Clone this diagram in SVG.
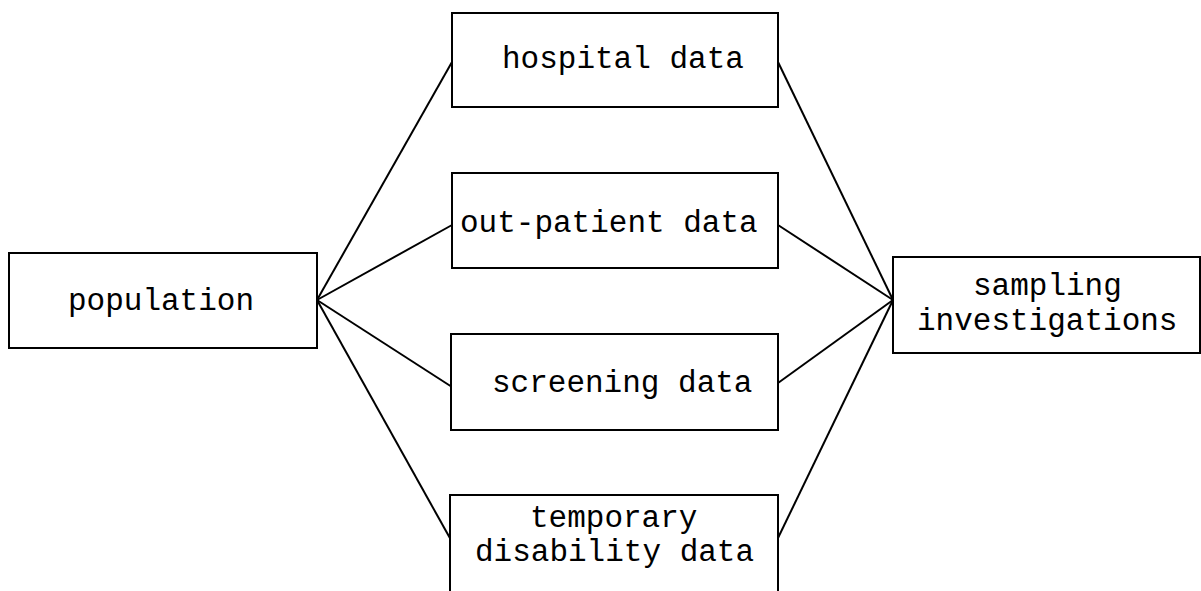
<svg xmlns="http://www.w3.org/2000/svg" width="1201" height="591" viewBox="0 0 1201 591">
<style>
.box{fill:#fff;stroke:#000;stroke-width:2}
.lbl{font-family:"Liberation Mono","Courier New",monospace;font-size:31px;fill:#000}
.conn line{stroke:#000;stroke-width:2}
</style>
<rect width="1201" height="591" fill="#fff"/>
<g id="connectors" class="conn">
<line x1="317" y1="300" x2="452" y2="62"/>
<line x1="317" y1="300" x2="452" y2="225"/>
<line x1="317" y1="300" x2="452" y2="387"/>
<line x1="317" y1="300" x2="451" y2="540"/>
<line x1="778" y1="62" x2="893" y2="300"/>
<line x1="778" y1="225" x2="893" y2="300"/>
<line x1="778" y1="383" x2="893" y2="300"/>
<line x1="778" y1="538" x2="893" y2="300"/>
</g>
<g id="population">
<rect class="box" x="9" y="253" width="308" height="95"/>
<text class="lbl" x="68" y="310">population</text>
</g>
<g id="hospital">
<rect class="box" x="452" y="13" width="326" height="94"/>
<text class="lbl" x="502" y="68">hospital data</text>
</g>
<g id="outpatient">
<rect class="box" x="452" y="173" width="326" height="95"/>
<text class="lbl" x="460" y="232">out-patient data</text>
</g>
<g id="screening">
<rect class="box" x="451" y="334" width="327" height="96"/>
<text class="lbl" x="492" y="392">screening data</text>
</g>
<g id="temporary">
<rect class="box" x="450" y="495" width="328" height="110"/>
<text class="lbl" x="530" y="527">temporary</text>
<text class="lbl" x="475" y="561">disability data</text>
</g>
<g id="sampling">
<rect class="box" x="893" y="257" width="307" height="96"/>
<text class="lbl" x="973" y="295">sampling</text>
<text class="lbl" x="917" y="330">investigations</text>
</g>
</svg>
